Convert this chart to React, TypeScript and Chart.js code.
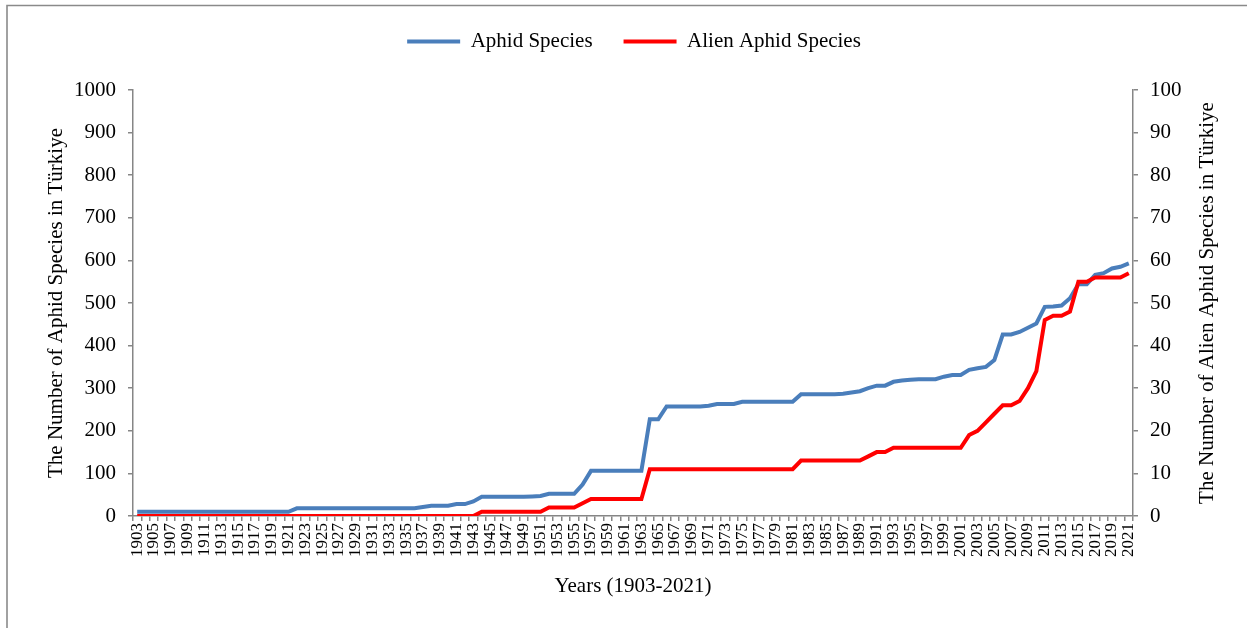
import React, { useEffect, useRef } from "react";
import Chart from "chart.js/auto";

const years: string[] = [
  "1903","1904","1905","1906","1907","1908","1909","1910","1911","1912",
  "1913","1914","1915","1916","1917","1918","1919","1920","1921","1922",
  "1923","1924","1925","1926","1927","1928","1929","1930","1931","1932",
  "1933","1934","1935","1936","1937","1938","1939","1940","1941","1942",
  "1943","1944","1945","1946","1947","1948","1949","1950","1951","1952",
  "1953","1954","1955","1956","1957","1958","1959","1960","1961","1962",
  "1963","1964","1965","1966","1967","1968","1969","1970","1971","1972",
  "1973","1974","1975","1976","1977","1978","1979","1980","1981","1982",
  "1983","1984","1985","1986","1987","1988","1989","1990","1991","1992",
  "1993","1994","1995","1996","1997","1998","1999","2000","2001","2002",
  "2003","2004","2005","2006","2007","2008","2009","2010","2011","2012",
  "2013","2014","2015","2016","2017","2018","2019","2020","2021",
];

// The Number of Aphid Species in Türkiye (left axis)
const aphidSpecies: number[] = [
  10, 10, 10, 10, 10, 10, 10, 10, 10, 10, // 1903-1912
  10, 10, 10, 10, 10, 10, 10, 10, 10, 18, // 1913-1922
  18, 18, 18, 18, 18, 18, 18, 18, 18, 18, // 1923-1932
  18, 18, 18, 18, 21, 24, 24, 24, 28, 28, // 1933-1942
  34, 45, 45, 45, 45, 45, 45, 46, 47, 52, // 1943-1952
  52, 52, 52, 74, 106, 106, 106, 106, 106, 106, // 1953-1962
  106, 227, 227, 257, 257, 257, 257, 257, 259, 263, // 1963-1972
  263, 263, 268, 268, 268, 268, 268, 268, 268, 286, // 1973-1982
  286, 286, 286, 286, 287, 290, 293, 300, 306, 306, // 1983-1992
  315, 318, 320, 321, 321, 321, 327, 331, 331, 343, // 1993-2002
  347, 350, 366, 426, 426, 432, 442, 452, 491, 492, // 2003-2012
  494, 511, 544, 544, 566, 570, 581, 585, 593,      // 2013-2021
];

// The Number of Alien Aphid Species in Türkiye (right axis)
const alienSpecies: number[] = [
  0, 0, 0, 0, 0, 0, 0, 0, 0, 0, // 1903-1912
  0, 0, 0, 0, 0, 0, 0, 0, 0, 0, // 1913-1922
  0, 0, 0, 0, 0, 0, 0, 0, 0, 0, // 1923-1932
  0, 0, 0, 0, 0, 0, 0, 0, 0, 0, // 1933-1942
  0, 1, 1, 1, 1, 1, 1, 1, 1, 2, // 1943-1952
  2, 2, 2, 3, 4, 4, 4, 4, 4, 4, // 1953-1962
  4, 11, 11, 11, 11, 11, 11, 11, 11, 11, // 1963-1972
  11, 11, 11, 11, 11, 11, 11, 11, 11, 13, // 1973-1982
  13, 13, 13, 13, 13, 13, 13, 14, 15, 15, // 1983-1992
  16, 16, 16, 16, 16, 16, 16, 16, 16, 19, // 1993-2002
  20, 22, 24, 26, 26, 27, 30, 34, 46, 47, // 2003-2012
  47, 48, 55, 55, 56, 56, 56, 56, 57,     // 2013-2021
];

const leftTicks = { min: 0, max: 1000, step: 100 };
const rightTicks = { min: 0, max: 100, step: 10 };

const seriesNames = ["Aphid Species", "Alien Aphid Species"];
const leftTitle = "The Number of Aphid Species in Türkiye";
const rightTitle = "The Number of Alien Aphid Species in Türkiye";
const xTitle = "Years (1903-2021)";

const FONT = "Liberation Serif";
const AXIS_GRAY = "#868686";
const BLUE = "#4A7EBB";
const RED = "#FF0000";

export default function App() {
  const canvasRef = useRef<HTMLCanvasElement | null>(null);

  useEffect(() => {
    if (!canvasRef.current) return;
    Chart.defaults.font.family = FONT;
    Chart.defaults.color = "#000";

    const framePlugin = {
      id: "frame",
      beforeLayout(chart: any) {
        const lg = chart.legend;
        if (lg && !lg.__patched) {
          const orig = lg.fit;
          lg.fit = function () {
            orig.call(this);
            this.height = 90;
            if (this.lineWidths && this.lineWidths.length) {
              this.lineWidths[0] -= 21;
            }
          };
          lg.__patched = true;
        }
      },
      afterDraw(chart: any) {
        const ctx = chart.ctx;
        const { top, bottom } = chart.chartArea;
        ctx.save();
        ctx.strokeStyle = "#8a8a8a";
        ctx.lineWidth = 1.6;
        ctx.beginPath();
        ctx.moveTo(7, chart.height);
        ctx.lineTo(7, 5.5);
        ctx.lineTo(chart.width, 5.5);
        ctx.stroke();
        // right axis title (reads bottom to top)
        ctx.fillStyle = "#000";
        ctx.font = `21px "${FONT}"`;
        ctx.textAlign = "center";
        ctx.textBaseline = "middle";
        ctx.translate(1207, (top + bottom) / 2);
        ctx.rotate(-Math.PI / 2);
        ctx.fillText(rightTitle, 0, 0);
        ctx.restore();
      },
    };

    const gridOpts = {
      drawOnChartArea: false,
      drawTicks: true,
      tickLength: 5,
      color: AXIS_GRAY,
      lineWidth: 1.5,
    };
    const borderOpts = { display: true, color: AXIS_GRAY, width: 1.5 };
    const plainNumber = (v: any) => String(v);

    const chart = new Chart(canvasRef.current, {
      type: "line",
      data: {
        labels: years,
        datasets: [
          {
            label: seriesNames[0],
            data: aphidSpecies,
            borderColor: BLUE,
            backgroundColor: BLUE,
            borderWidth: 4,
            pointRadius: 0,
            tension: 0,
            yAxisID: "y",
            order: 1,
          },
          {
            label: seriesNames[1],
            data: alienSpecies,
            borderColor: RED,
            backgroundColor: RED,
            borderWidth: 4,
            pointRadius: 0,
            tension: 0,
            yAxisID: "y1",
            order: 0,
          },
        ],
      },
      options: {
        animation: false,
        responsive: true,
        maintainAspectRatio: false,
        layout: { padding: 0 },
        plugins: {
          tooltip: { enabled: false },
          legend: {
            display: true,
            position: "top",
            align: "center",
            labels: {
              boxWidth: 53,
              boxHeight: 4,
              padding: 31,
              color: "#000",
              font: { family: FONT, size: 21 },
              sort: (a: any, b: any) => a.datasetIndex - b.datasetIndex,
              generateLabels: (c: any) =>
                (Chart as any).defaults.plugins.legend.labels
                  .generateLabels(c)
                  .map((l: any) => ({ ...l, lineWidth: 0, fillStyle: l.strokeStyle })),
            },
          },
        },
        scales: {
          x: {
            type: "category",
            offset: true,
            grid: { ...gridOpts, offset: true },
            border: borderOpts,
            ticks: {
              autoSkip: false,
              maxRotation: 90,
              minRotation: 90,
              padding: 2,
              color: "#000",
              font: { family: FONT, size: 17 },
              callback: (_v: any, i: number) => (i % 2 === 0 ? years[i] : ""),
            },
            title: {
              display: true,
              text: xTitle,
              color: "#000",
              font: { family: FONT, size: 21 },
              padding: { top: 0, bottom: 29 },
            },
            afterFit: (s: any) => {
              s.height = 112;
            },
          },
          y: {
            type: "linear",
            position: "left",
            min: leftTicks.min,
            max: leftTicks.max,
            grid: gridOpts,
            border: borderOpts,
            ticks: {
              stepSize: leftTicks.step,
              padding: 12,
              color: "#000",
              font: { family: FONT, size: 21 },
              callback: plainNumber,
            },
            title: {
              display: true,
              text: leftTitle,
              color: "#000",
              font: { family: FONT, size: 21 },
              padding: { top: 44, bottom: 0 },
            },
            afterFit: (s: any) => {
              s.width = 133;
            },
          },
          y1: {
            type: "linear",
            position: "right",
            min: rightTicks.min,
            max: rightTicks.max,
            grid: gridOpts,
            border: borderOpts,
            ticks: {
              stepSize: rightTicks.step,
              padding: 12,
              color: "#000",
              font: { family: FONT, size: 21 },
              callback: plainNumber,
            },
            afterFit: (s: any) => {
              s.width = 114;
            },
          },
        },
      },
      plugins: [framePlugin],
    } as any);

    return () => chart.destroy();
  }, []);

  return (
    <div
      style={{
        position: "fixed",
        left: 0,
        top: 0,
        width: 1247,
        height: 628,
        background: "#fff",
      }}
    >
      <canvas ref={canvasRef} />
    </div>
  );
}
